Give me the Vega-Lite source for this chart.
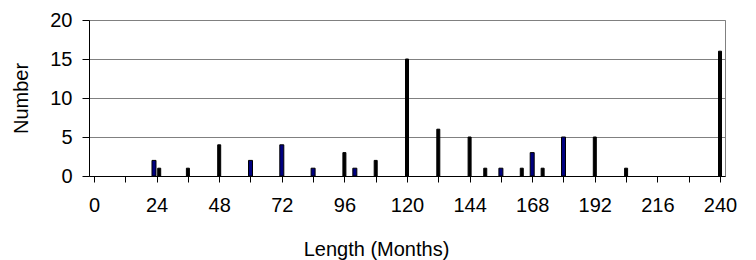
{
  "$schema": "https://vega.github.io/schema/vega-lite/v6.json",
  "width": 636,
  "height": 156,
  "autosize": {"type": "none"},
  "padding": {"left": 89, "top": 20, "right": 31, "bottom": 84},
  "background": "white",
  "config": {
    "view": {"stroke": "#808080", "strokeWidth": 1},
    "font": "Liberation Sans",
    "axis": {
      "labelFont": "Liberation Sans",
      "titleFont": "Liberation Sans",
      "labelColor": "black",
      "titleColor": "black",
      "labelFontSize": 20,
      "titleFontSize": 20,
      "titleFontWeight": "normal",
      "domainColor": "black",
      "tickColor": "black"
    }
  },
  "data": {
    "values": [
      {"months": 23, "count": 2, "series": "blue"},
      {"months": 60, "count": 2, "series": "blue"},
      {"months": 72, "count": 4, "series": "blue"},
      {"months": 84, "count": 1, "series": "blue"},
      {"months": 100, "count": 1, "series": "blue"},
      {"months": 156, "count": 1, "series": "blue"},
      {"months": 168, "count": 3, "series": "blue"},
      {"months": 180, "count": 5, "series": "blue"},
      {"months": 25, "count": 1, "series": "black"},
      {"months": 36, "count": 1, "series": "black"},
      {"months": 48, "count": 4, "series": "black"},
      {"months": 96, "count": 3, "series": "black"},
      {"months": 108, "count": 2, "series": "black"},
      {"months": 120, "count": 15, "series": "black"},
      {"months": 132, "count": 6, "series": "black"},
      {"months": 144, "count": 5, "series": "black"},
      {"months": 150, "count": 1, "series": "black"},
      {"months": 164, "count": 1, "series": "black"},
      {"months": 172, "count": 1, "series": "black"},
      {"months": 192, "count": 5, "series": "black"},
      {"months": 204, "count": 1, "series": "black"},
      {"months": 240, "count": 16, "series": "black"}
    ]
  },
  "encoding": {
    "x": {
      "field": "months",
      "type": "quantitative",
      "scale": {"domain": [0, 240], "nice": false, "zero": false},
      "axis": {
        "values": [0, 12, 24, 36, 48, 60, 72, 84, 96, 108, 120, 132, 144, 156, 168, 180, 192, 204, 216, 228, 240],
        "labelExpr": "datum.value % 24 === 0 ? datum.label : ''",
        "labelOverlap": false,
        "labelFlush": false,
        "tickSize": 6,
        "labelPadding": 13,
        "grid": false,
        "title": "Length (Months)",
        "titleX": 287,
        "titleY": 79,
        "titleBaseline": "alphabetic",
        "titleAnchor": null
      }
    },
    "y": {
      "field": "count",
      "type": "quantitative",
      "scale": {"domain": [0, 20], "nice": false},
      "axis": {
        "values": [0, 5, 10, 15, 20],
        "grid": true,
        "gridColor": "#808080",
        "gridWidth": 1,
        "tickSize": 7,
        "labelPadding": 10,
        "title": "Number",
        "titlePadding": 18
      }
    }
  },
  "layer": [
    {
      "transform": [{"filter": "datum.series === 'blue'"}],
      "mark": {"type": "bar", "size": 4, "fill": "#000080", "stroke": "black", "strokeWidth": 1}
    },
    {
      "transform": [{"filter": "datum.series === 'black'"}],
      "mark": {"type": "bar", "size": 3, "fill": "black", "stroke": "black", "strokeWidth": 1}
    }
  ]
}
